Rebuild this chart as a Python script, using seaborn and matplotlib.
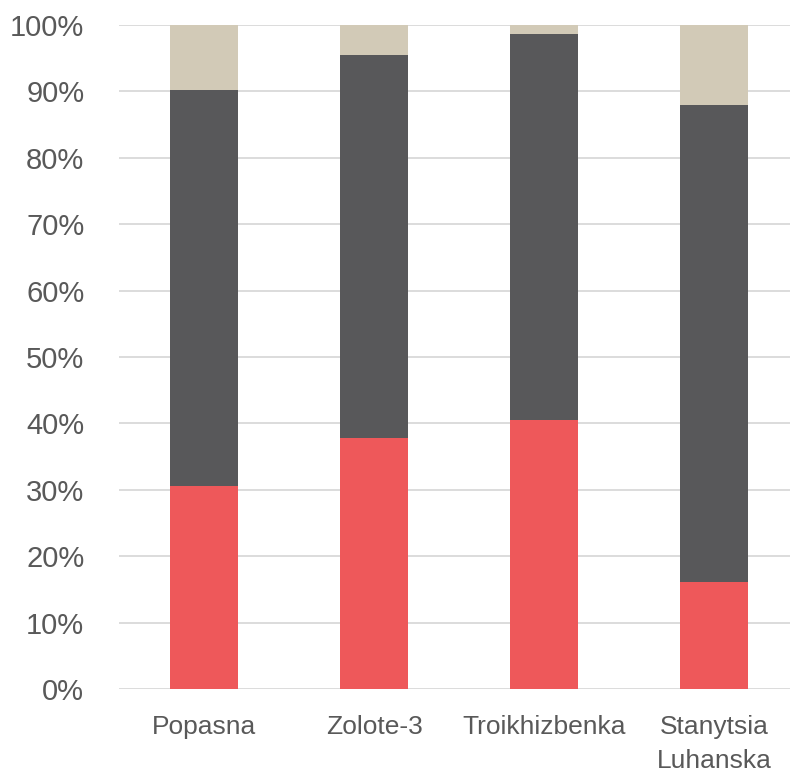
import numpy as np
import pandas as pd
import matplotlib.pyplot as plt
import seaborn as sns

# === Data (shares in %) ===
sites = ["Popasna", "Zolote-3", "Troikhizbenka", "Stanytsia\nLuhanska"]
red_share = [30.5, 37.8, 40.5, 16.1]
dark_share = [59.7, 57.7, 58.1, 71.8]
beige_share = [9.8, 4.5, 1.4, 12.1]

colors = {"red": "#EE585A", "dark": "#58585A", "beige": "#D2CAB7"}

# === Setup ===
sns.set_theme(style="white")
plt.rcParams["font.family"] = ["Liberation Sans Narrow", "DejaVu Sans Condensed",
                               "Liberation Sans", "DejaVu Sans"]

df = pd.DataFrame({
    "site": sites,
    "red": red_share,
    "dark": dark_share,
    "beige": beige_share,
})
df["red_top"] = df["red"]
df["dark_top"] = df["red"] + df["dark"]
df["beige_top"] = df["dark_top"] + df["beige"]

fig = plt.figure(figsize=(7.9, 7.78), dpi=100)
ax = fig.add_axes([119 / 790, 89 / 778, 671 / 790, 664 / 778])

# draw back to front so the stacks show through
for col, c in [("beige_top", "beige"), ("dark_top", "dark"), ("red_top", "red")]:
    sns.barplot(data=df, x="site", y=col, order=sites, color=colors[c],
                width=0.4, saturation=1, linewidth=0, ax=ax, zorder=2)

ax.set_ylim(0, 100)
ax.set_xlim(-0.5, 3.447)
ax.set_yticks(np.arange(0, 101, 10))
ax.set_yticklabels([f"{v}%" for v in range(0, 101, 10)])
ax.yaxis.grid(True, color="#D9D9D9", linewidth=1.3, zorder=0)
ax.set_axisbelow(True)
sns.despine(ax=ax, left=True, bottom=True, top=True, right=True)

ax.tick_params(axis="y", length=0, pad=25, labelsize=21, labelcolor="#595959")
ax.tick_params(axis="x", length=0, pad=19, labelsize=19, labelcolor="#595959")
for lbl in ax.get_xticklabels():
    lbl.set_linespacing(1.5)
ax.set_xlabel("")
ax.set_ylabel("")

fig.savefig("out.png", dpi=100)
